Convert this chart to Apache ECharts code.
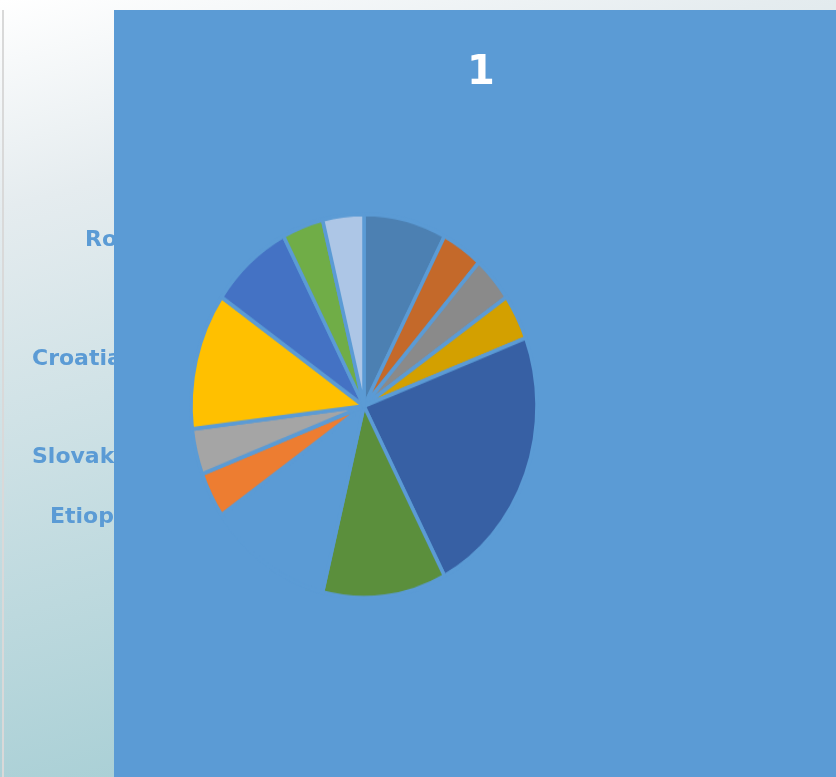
<!DOCTYPE html>
<html>
<head>
<meta charset="utf-8">
<script src="https://cdn.jsdelivr.net/npm/echarts@6/dist/echarts.min.js"></script>
<style>
  html, body { margin: 0; padding: 0; overflow: hidden; background: #ffffff; }
  #wrap { position: relative; width: 836px; height: 777px; }
  #main, #pie { position: absolute; left: 0; top: 0; width: 836px; height: 777px; }
  /* the pie is drawn slightly taller than wide */
  #pie { transform-origin: 364px 406px; transform: scaleY(1.108); }
</style>
</head>
<body>
<div id="wrap">
  <div id="main"></div>
  <div id="pie"></div>
</div>
<script>
// Slices, clockwise from twelve o'clock
const categories = ['Slice 1', 'Slice 2', 'Slice 3', 'Slice 4', 'Slice 5', 'Slice 6', 'Slice 7',
                    'Etiopia', 'Slovakia', 'Croatia', 'Romania', 'Slice 12', 'Slice 13'];
const values = [2, 1, 1, 1, 6, 3, 3, 1, 1, 3, 2, 1, 1];
const sliceColors = ['#4c80b2', '#c4692a', '#8a8a8a', '#d3a000', '#3760a4', '#5b8f3c', '#5b9bd5',
                     '#ed7d31', '#a5a5a5', '#ffc000', '#4472c4', '#70ad47', '#adc6e6'];
const chartTitle = '1';
// Category names shown on the left side of the chart
const sideLabels = ['Romania', 'Croatia', 'Slovakia', 'Etiopia'];

const plotBlue = '#5b9bd5';

// ---- background, side labels, plot area and title ----
const main = echarts.init(document.getElementById('main'), null, { renderer: 'canvas' });
const labelPos = [[85, 240], [32, 359], [32, 457], [50, 517]];
const labelEls = sideLabels.map((name, i) => ({
  type: 'text',
  z: 1,
  x: labelPos[i][0],
  y: labelPos[i][1],
  style: {
    text: name,
    fill: plotBlue,
    font: 'bold 22px "DejaVu Sans"',
    textAlign: 'left',
    textVerticalAlign: 'middle'
  }
}));

main.setOption({
  animation: false,
  backgroundColor: {
    type: 'linear', x: 0, y: 0, x2: 0.25, y2: 1,
    colorStops: [
      { offset: 0, color: '#ffffff' },
      { offset: 0.25, color: '#e5ecef' },
      { offset: 1, color: '#a8cfd5' }
    ]
  },
  graphic: [
    { type: 'rect', z: 0, shape: { x: 2, y: 10, width: 2, height: 767 }, style: { fill: '#d9d9d9' } },
    ...labelEls,
    { type: 'rect', z: 2, shape: { x: 114, y: 10, width: 722, height: 767 }, style: { fill: plotBlue } },
    {
      type: 'text', z: 3, x: 481, y: 74,
      style: {
        text: chartTitle,
        fill: '#ffffff',
        font: 'bold 40px "DejaVu Sans"',
        textAlign: 'center',
        textVerticalAlign: 'middle'
      }
    }
  ]
});

// ---- pie ----
const pie = echarts.init(document.getElementById('pie'), null, { renderer: 'canvas' });
pie.setOption({
  animation: false,
  backgroundColor: 'transparent',
  series: [{
    type: 'pie',
    center: [364, 406],
    radius: [0, 173],
    startAngle: 90,
    clockwise: true,
    label: { show: false },
    labelLine: { show: false },
    emphasis: { disabled: true },
    itemStyle: { borderColor: plotBlue, borderWidth: 3.5 },
    data: categories.map((name, i) => ({
      name: name,
      value: values[i],
      itemStyle: { color: sliceColors[i] }
    }))
  }]
});
</script>
</body>
</html>
